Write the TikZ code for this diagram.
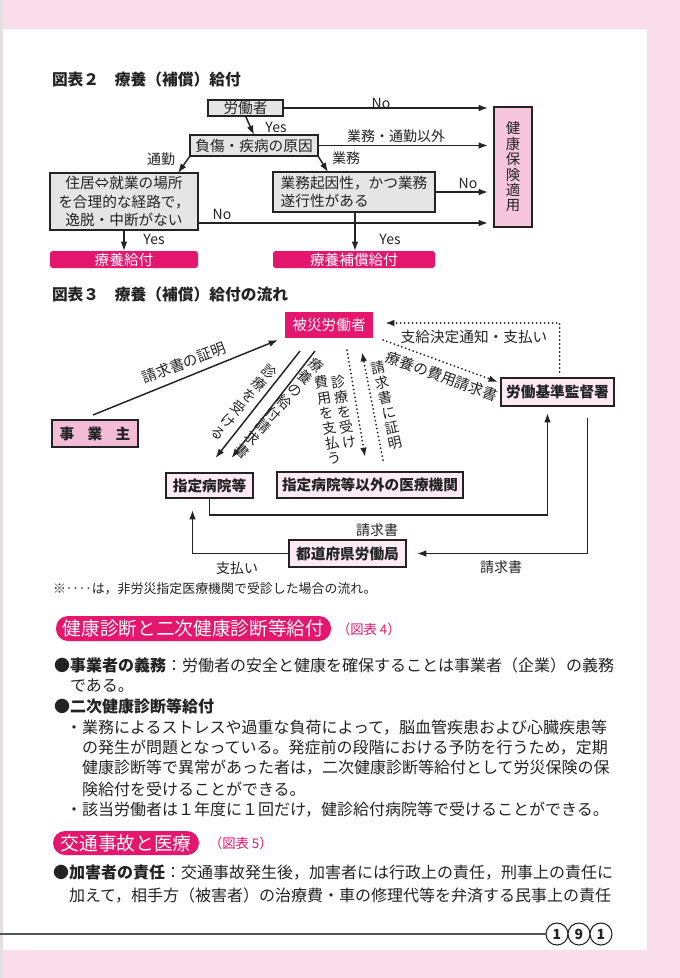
\documentclass[tikz,border=0pt]{standalone}
\usepackage{fontspec}
\setmainfont{Noto Sans CJK JP}
\usetikzlibrary{arrows.meta,calc}
\definecolor{pagepink}{RGB}{249,221,235}
\definecolor{mag}{RGB}{229,22,110}
\definecolor{boxgrey}{RGB}{229,229,229}
\definecolor{kpink}{RGB}{246,198,222}
\definecolor{lpink}{RGB}{252,235,243}
\definecolor{jpink}{RGB}{243,188,214}
\definecolor{ink}{RGB}{35,35,35}
\definecolor{rulec}{RGB}{80,88,88}
\definecolor{edgegrey}{RGB}{228,224,226}
\begin{document}
\begin{tikzpicture}[x=0.75pt,y=-0.75pt,
  every node/.style={inner sep=0pt, outer sep=0pt, text=ink},
  sz/.style 2 args={minimum width=#1*0.75pt, minimum height=#2*0.75pt},
  fbox/.style={font=\fontsize{11}{13.9}\selectfont},
  lab/.style={font=\fontsize{10.5}{12}\selectfont},
  vt/.style={font=\fontsize{10.5}{11.5}\selectfont, align=center},
  gbox/.style={draw=ink, line width=0.8pt, fill=boxgrey, fbox},
  mbox/.style={fill=mag, text=white, rounded corners=2pt, fbox},
  hbox/.style={fill=mag, text=white, fbox},
  lbox/.style={draw=ink, line width=0.8pt, fill=lpink, font=\fontsize{11}{13.9}\selectfont\bfseries},
  jbox/.style={draw=ink, line width=0.8pt, fill=jpink, font=\fontsize{11}{13.9}\selectfont\bfseries},
  arr/.style={draw=ink, line width=1.1pt, -{Latex[length=7pt,width=5pt]}},
  dotarr/.style={draw=ink, line width=1.5pt, line cap=round, dash pattern=on 0pt off 3pt, -{Latex[length=7pt,width=5pt]}},
  pill/.style={fill=mag, text=white, rounded corners=9pt, font=\fontsize{14}{16}\selectfont},
  body/.style={font=\fontsize{12}{14}\selectfont, anchor=west},
  ttl/.style={font=\fontsize{11.8}{14}\selectfont\bfseries, anchor=west},
  pg/.style={circle, draw=ink, line width=0.8pt, fill=white, minimum size=16.5pt, font=\fontsize{10.5}{12}\selectfont\bfseries}
]
\useasboundingbox (0,0) rectangle (680,978);
% page
\fill[pagepink] (0,0) rectangle (680,978);
\fill[edgegrey] (0,0) rectangle (3,978);
\fill[white] (3,29) rectangle (647,950);

% ---------- Chart 2 ----------
\node[ttl] (t2) at (52,80) {図表２\hspace{1em}療養（補償）給付};

\node[gbox, sz={75}{16}] (w) at (245.5,108) {労働者};
\node[gbox, sz={128}{21}] (c) at (254,145.5) {負傷・疾病の原因};
\node[gbox, sz={148}{57}, align=center] (j) at (124,201.5) {住居⇔就業の場所\\を合理的な経路で，\\逸脱・中断がない};
\node[gbox, sz={162}{40}, align=left] (g) at (354,192) {業務起因性，かつ業務\\遂行性がある};
\node[draw=ink, line width=0.8pt, fill=kpink, sz={38}{120}, font=\fontsize{10.8}{11.55}\selectfont, align=center] (k) at (513,167) {健\\康\\保\\険\\適\\用};
\node[mbox, sz={148}{17}] (r1) at (124,259.5) {療養給付};
\node[mbox, sz={162}{17}] (r2) at (354,259.5) {療養補償給付};

\draw[arr, shorten >=4.5pt] (w.east) -- (w.east -| k.west);
\draw[arr] (w.south) -- (c.north);
\draw[arr, shorten >=4.5pt] (c.east) -- (c.east -| k.west);
\draw[arr] (c.south west) -- ($(j.north east)+(-20,0)$);
\draw[arr] (c.south east) -- ($(g.north west)+(55,0)$);
\coordinate (jn) at ($(j.south east)+(0,-7)$);
\draw[arr, shorten >=4.5pt] (jn) -- (jn -| k.west);
\draw[arr] (j.south) -- (r1.north);
\draw[arr, shorten >=4.5pt] (g.east) -- (g.east -| k.west);
\coordinate (gs) at ($(g.south west)+(82,0)$);
\draw[arr] (gs) -- (gs |- r2.north);

\node[lab] (l1) at (381,103) {No};
\node[lab] (l2) at (276,127) {Yes};
\node[lab] (l3) at (396,136) {業務・通勤以外};
\node[lab] (l4) at (161,159) {通勤};
\node[lab] (l5) at (346,158) {業務};
\node[lab] (l6) at (222,214) {No};
\node[lab] (l7) at (154,239) {Yes};
\node[lab] (l8) at (468,183) {No};
\node[lab] (l9) at (390,239) {Yes};

% ---------- Chart 3 ----------
\node[ttl] (t3) at (52,295) {図表３\hspace{1em}療養（補償）給付の流れ};

\node[hbox, sz={88}{26}] (h) at (329,325) {被災労働者};
\node[lbox, sz={113}{28}] (l) at (557.5,392) {労働基準監督署};
\node[jbox, sz={86}{27}] (e) at (95,433.5) {事\hspace{10pt}業\hspace{10pt}主};
\node[lbox, sz={87}{25}] (s1) at (209.5,485.5) {指定病院等};
\node[lbox, sz={186}{26}] (s2) at (370,485) {指定病院等以外の医療機関};
\node[lbox, sz={117}{27}] (p) at (347.5,553.5) {都道府県労働局};

% solid arrows
\draw[arr] ($(e.north)+(-2,-5)$) -- ($(h.south west)+(-7,2)$);
\draw[arr] ($(h.south west)+(15,13)$) -- ($(s1.north)+(6,-15)$);
\draw[arr] ($(h.south west)+(30,13)$) -- ($(s1.north)+(22,-15)$);
\draw[arr] (s1.south) -- ++(0,17) -| ($(l.south)+(-10,7)$);
\draw[arr] ($(l.south)+(30,12)$) |- ($(p.east)+(11,0)$);
\draw[arr] (p.west) -| ($(s1.south)+(-17,12)$);

% dotted arrows
\draw[dotarr] ($(h.south)+(18,12)$) -- ($(s2.north)+(-5,-15)$);
\draw[dotarr] ($(s2.north)+(13,-12)$) -- ($(h.south)+(33,14)$);
\draw[dotarr] ($(h.south east)+(10,2)$) -- ($(l.north west)+(-3,4)$);
\draw[dotarr] ($(l.north)+(2,-6)$) |- ($(h.east)+(12,-2)$);

% labels chart 3
\node[lab, font=\fontsize{11}{12}\selectfont, rotate=21] (a1) at (184,363) {請求書の証明};
\node[vt, rotate=-40, font=\fontsize{10.5}{11.9}\selectfont] (a2) at (244,402) {診\\療\\を\\受\\け\\る};
\node[vt, rotate=-41, font=\fontsize{10.5}{12.1}\selectfont] (a3) at (279,408) {療\\養\\の\\給\\付\\請\\求\\書};
\node[vt, rotate=10] (a4) at (328,420) {費\\用\\を\\支\\払\\う};
\node[vt, rotate=10] (a5) at (344,412) {診\\療\\を\\受\\け};
\node[vt, rotate=13] (a6) at (387,405) {請\\求\\書\\に\\証\\明};
\node[lab, font=\fontsize{11}{12}\selectfont, rotate=-20] (a7) at (442,376) {療養の費用請求書};
\node[lab, font=\fontsize{11}{12}\selectfont] (a8) at (474,337) {支給決定通知・支払い};
\node[lab] (a9) at (377,530) {請求書};
\node[lab] (a10) at (501,567) {請求書};
\node[lab] (a11) at (237,568) {支払い};

\node[font=\fontsize{9.7}{11}\selectfont, anchor=west] (fn) at (53,589) {※‥‥は，非労災指定医療機関で受診した場合の流れ。};

% ---------- Body text ----------
\node[pill, sz={275}{25}] (p1) at (193.5,628.5) {健康診断と二次健康診断等給付};
\node[font=\fontsize{10}{12}\selectfont, text=mag, anchor=west] (p1r) at (337,629) {（図表 4）};
\node[body] (b1) at (54,665) {{\bfseries ●事業者の義務}：労働者の安全と健康を確保することは事業者（企業）の義務};
\node[body] (b2) at (70,686) {である。};
\node[body] (b3) at (54,706) {\bfseries ●二次健康診断等給付};
\node[body] (b4) at (66,728) {・業務によるストレスや過重な負荷によって，脳血管疾患および心臓疾患等};
\node[body] (b5) at (82,748) {の発生が問題となっている。発症前の段階における予防を行うため，定期};
\node[body] (b6) at (82,768) {健康診断等で異常があった者は，二次健康診断等給付として労災保険の保};
\node[body] (b7) at (82,789) {険給付を受けることができる。};
\node[body] (b8) at (66,810) {・該当労働者は１年度に１回だけ，健診給付病院等で受けることができる。};

\node[pill, sz={146}{24}] (p2) at (126,843) {交通事故と医療};
\node[font=\fontsize{10}{12}\selectfont, text=mag, anchor=west] (p2r) at (209,843) {（図表 5）};
\node[body] (b9) at (53,873) {{\bfseries ●加害者の責任}：交通事故発生後，加害者には行政上の責任，刑事上の責任に};
\node[body] (b10) at (69,895) {加えて，相手方（被害者）の治療費・車の修理代等を弁済する民事上の責任};

% ---------- footer ----------
\node[pg] (n1) at (557,934) {1};
\node[pg] (n2) at (579,934) {9};
\node[pg] (n3) at (601,934) {1};
\coordinate (fl) at (0,934);
\draw[rulec, line width=0.9pt] (fl) -- (n1.west);
\end{tikzpicture}
\end{document}
